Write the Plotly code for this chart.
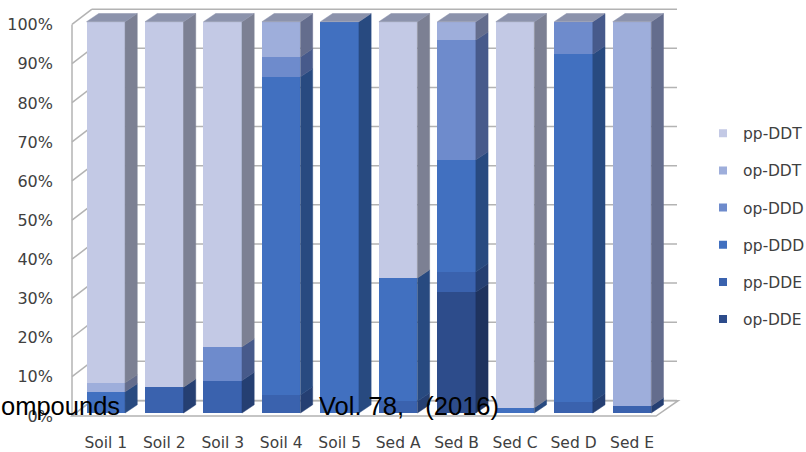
import plotly.graph_objects as go

# ---------------- data ----------------
categories = ["Soil 1", "Soil 2", "Soil 3", "Soil 4", "Soil 5",
              "Sed A", "Sed B", "Sed C", "Sed D", "Sed E"]
# stacked bottom -> top (percent of total)
op_DDE = [0, 0, 0, 0, 0, 0, 30.9, 0, 0, 0]
pp_DDE = [0, 6.6, 8.3, 4.6, 0, 3.0, 5.2, 0, 2.9, 1.8]
pp_DDD = [5.4, 0, 0, 81.3, 100, 31.5, 28.6, 1.35, 88.8, 0]
op_DDD = [0, 0, 8.6, 5.1, 0, 0, 30.6, 0, 8.3, 0]
op_DDT = [2.3, 0, 0, 9.0, 0, 0, 4.7, 0, 0, 98.2]
pp_DDT = [92.3, 93.4, 83.1, 0, 0, 65.5, 0, 98.65, 0, 0]

series = [("op-DDE", op_DDE), ("pp-DDE", pp_DDE), ("pp-DDD", pp_DDD),
          ("op-DDD", op_DDD), ("op-DDT", op_DDT), ("pp-DDT", pp_DDT)]
y_ticks = [0, 10, 20, 30, 40, 50, 60, 70, 80, 90, 100]
y_tick_labels = [f"{v}%" for v in y_ticks]

# ---------------- styles ----------------
front_colors = {"op-DDE": "#2d4c8b", "pp-DDE": "#3a62ae", "pp-DDD": "#4170c0",
                "op-DDD": "#6e8bcc", "op-DDT": "#9eaedb", "pp-DDT": "#c3c9e5"}
side_colors = {"op-DDE": "#1f335e", "pp-DDE": "#253f72", "pp-DDD": "#284a80",
               "op-DDD": "#475a8b", "op-DDT": "#646d8d", "pp-DDT": "#7c8093"}
top_color = "#8c93ac"
grid_color = "#b3b3b3"
text_color = "#404040"

# ---------------- geometry (pixel calibration) ----------------
W, H = 806, 452
L, R, T, B = 62, 806, 0, 425
X0_PX, PITCH_PX = 105.8, 58.47      # pixel of first category, px per category
Y0_PX, PX_PER_PCT = 413.0, 3.913    # pixel of 0 %, px per percent
BAR_W = 38.5 / PITCH_PX
DEPTH_X = 12.2 / PITCH_PX
DEPTH_Y = 8.2 / PX_PER_PCT
WALL_FRONT_X = (72 - X0_PX) / PITCH_PX
WALL_BACK_X = (92 - X0_PX) / PITCH_PX
WALL_RIGHT_X = (677 - X0_PX) / PITCH_PX
FLOOR_FRONT_RIGHT_X = (656 - X0_PX) / PITCH_PX
AXIS_PLANE_DY = -0.7
BACK_PLANE_DY = 3.2

x_range = [(L - X0_PX) / PITCH_PX, (R - X0_PX) / PITCH_PX]
y_range = [(Y0_PX - B) / PX_PER_PCT, (Y0_PX - T) / PX_PER_PCT]


def paper_x(px):
    return (px - L) / (R - L)


def paper_y(py):
    return (B - py) / (B - T)


positions = list(range(len(categories)))
fig = go.Figure()

# front faces
for name, vals in series:
    fig.add_trace(go.Bar(x=positions, y=vals, width=BAR_W, name=name,
                         marker=dict(color=front_colors[name], line=dict(width=0)),
                         showlegend=False, hoverinfo="skip"))

# side faces
cum = [0.0] * len(categories)
for name, vals in series:
    xs, ys = [], []
    for i, v in enumerate(vals):
        if v <= 0:
            continue
        y0, y1 = cum[i], cum[i] + v
        xr_ = positions[i] + BAR_W / 2
        xs += [xr_, xr_ + DEPTH_X, xr_ + DEPTH_X, xr_, xr_, None]
        ys += [y0, y0 + DEPTH_Y, y1 + DEPTH_Y, y1, y0, None]
        cum[i] = y1
    fig.add_trace(go.Scatter(x=xs, y=ys, mode="lines", fill="toself",
                             fillcolor=side_colors[name],
                             line=dict(color=side_colors[name], width=0.5),
                             showlegend=False, hoverinfo="skip"))

# top faces
xs, ys = [], []
for i in positions:
    xl_, xr_ = positions[i] - BAR_W / 2, positions[i] + BAR_W / 2
    top = cum[i]
    xs += [xl_, xl_ + DEPTH_X, xr_ + DEPTH_X, xr_, xl_, None]
    ys += [top, top + DEPTH_Y, top + DEPTH_Y, top, top, None]
fig.add_trace(go.Scatter(x=xs, y=ys, mode="lines", fill="toself", fillcolor=top_color,
                         line=dict(color=top_color, width=0.5),
                         showlegend=False, hoverinfo="skip"))

# legend entries (top to bottom)
for name, _ in reversed(series):
    fig.add_trace(go.Scatter(x=[None], y=[None], mode="markers", name=name,
                             legendgroup=name,
                             marker=dict(symbol="square", size=8, color=front_colors[name]),
                             hoverinfo="skip"))

# walls, floor, gridlines
shapes = []
floor_y_front = -0.77
floor_y_back = BACK_PLANE_DY - 0.06
shapes.append(dict(type="path", layer="below",
                   path=(f"M {WALL_FRONT_X},{floor_y_front} L {FLOOR_FRONT_RIGHT_X},{floor_y_front} "
                         f"L {WALL_RIGHT_X + 0.02},{floor_y_back} L {WALL_BACK_X},{floor_y_back} Z"),
                   line=dict(color=grid_color, width=1.5), fillcolor="white"))
for v in y_ticks:
    shapes.append(dict(type="line", layer="below", x0=WALL_BACK_X, x1=WALL_RIGHT_X,
                       y0=v + BACK_PLANE_DY, y1=v + BACK_PLANE_DY,
                       line=dict(color=grid_color, width=1.5)))
    shapes.append(dict(type="line", layer="below", x0=WALL_FRONT_X, x1=WALL_BACK_X,
                       y0=v + AXIS_PLANE_DY, y1=v + BACK_PLANE_DY,
                       line=dict(color=grid_color, width=1.5)))
shapes.append(dict(type="line", layer="below", x0=WALL_FRONT_X, x1=WALL_FRONT_X,
                   y0=floor_y_front, y1=100 + AXIS_PLANE_DY,
                   line=dict(color=grid_color, width=1.5)))

annotations = [
    dict(text="ompounds", xref="paper", yref="paper", x=paper_x(-1), y=paper_y(406),
         xanchor="left", yanchor="middle", showarrow=False,
         font=dict(family="Liberation Sans", size=25.5, color="black")),
    dict(text="Vol. 78,\u00a0\u00a0\u00a0(2016)", xref="paper", yref="paper",
         x=paper_x(317), y=paper_y(406), xanchor="left", yanchor="middle", showarrow=False,
         font=dict(family="Liberation Sans", size=25.5, color="black")),
]

fig.update_layout(
    width=W, height=H, barmode="stack", bargap=0,
    margin=dict(l=L, r=W - R, t=T, b=H - B, autoexpand=False),
    paper_bgcolor="white", plot_bgcolor="rgba(0,0,0,0)",
    shapes=shapes, annotations=annotations,
    xaxis=dict(range=x_range, tickmode="array", tickvals=positions, ticktext=categories,
               showgrid=False, zeroline=False, showline=False, ticks="",
               tickfont=dict(family="DejaVu Sans", size=15.5, color=text_color),
               ticklabelstandoff=6),
    yaxis=dict(range=y_range, tickmode="array", tickvals=y_ticks, ticktext=y_tick_labels,
               showgrid=False, zeroline=False, showline=False, ticks="",
               tickfont=dict(family="DejaVu Sans", size=16, color=text_color),
               ticklabelshift=3, ticklabelstandoff=8),
    legend=dict(x=paper_x(703), y=paper_y(116.7), xanchor="left", yanchor="top",
                traceorder="grouped", tracegroupgap=14.0, itemwidth=30,
                font=dict(family="DejaVu Sans", size=15.5, color=text_color),
                bgcolor="rgba(0,0,0,0)"),
    showlegend=True,
)

fig.write_html("out.html")
